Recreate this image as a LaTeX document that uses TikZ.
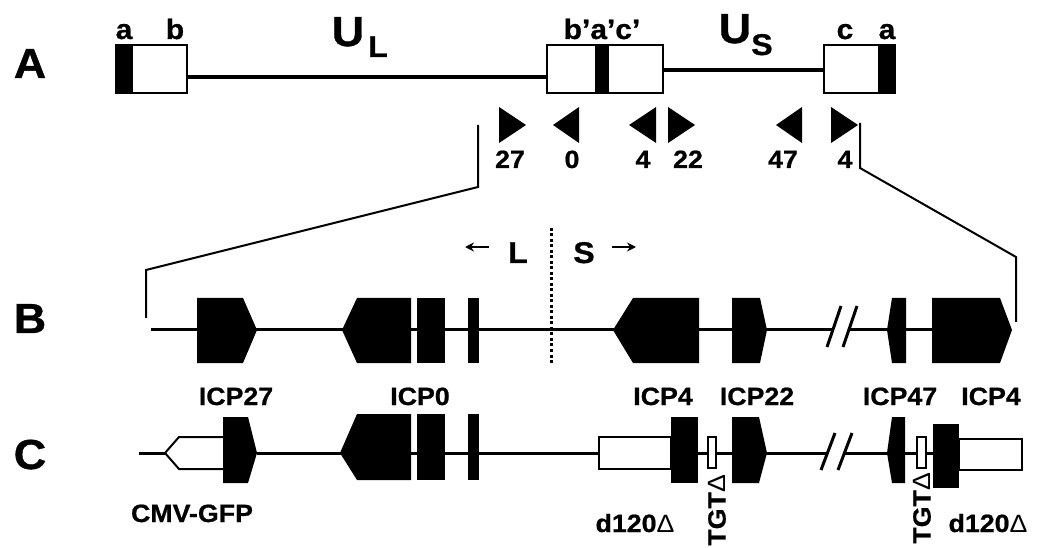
\documentclass[tikz,border=0pt]{standalone}
\usepackage{fontspec}
\setmainfont{Liberation Sans}[FakeStretch=1.07, BoldFeatures={FakeBold=0.8}]
\usetikzlibrary{arrows.meta}
\begin{document}
\begin{tikzpicture}[x=1pt,y=-1pt,
  txt/.style={inner sep=0pt, anchor=base, font=\bfseries\fontsize{25}{30}\selectfont},
  rowlbl/.style={txt, font=\bfseries\fontsize{42}{48}\selectfont},
  seglbl/.style={txt, font=\bfseries\fontsize{28}{32}\selectfont},
  biglbl/.style={txt, font=\bfseries\fontsize{42}{48}\selectfont},
  sublbl/.style={txt, font=\bfseries\fontsize{30}{34}\selectfont},
  openbox/.style={draw=black, fill=white, line width=2pt},
  gene/.style={fill=black},
  genome/.style={line width=4pt},
  dna/.style={line width=3pt},
  link/.style={line width=2pt},
  brk/.style={line width=3pt},
  dir/.style={line width=2pt, -{Stealth[length=9pt,width=9pt]}}]
\useasboundingbox (0,0) rectangle (1037,548);

% row letters
\node[rowlbl] (rA) at (30,78) {A};
\node[rowlbl] (rB) at (30,333) {B};
\node[rowlbl] (rC) at (30,469) {C};

% ---------- row A ----------
\draw[genome] (187,77) -- (547,77);
\draw[genome] (663,70) -- (824,70);
\draw[openbox] (116,45) rectangle (187,93);
\fill[gene] (116,45) rectangle (133,93);
\draw[openbox] (547,45) rectangle (663,93);
\fill[gene] (595,45) rectangle (609,93);
\draw[openbox] (824,45) rectangle (895,93);
\fill[gene] (878,45) rectangle (895,93);

\node[seglbl] (la1) at (124,39) {a};
\node[seglbl] (lb) at (175,39) {b};
\node[seglbl] (lbac) at (602,39) {b’a’c’};
\node[seglbl] (lc) at (845,39) {c};
\node[seglbl] (la2) at (887,39) {a};
\node[biglbl] (UL) at (348,46) {U};
\node[sublbl] (ULs) at (378,57) {L};
\node[biglbl] (US) at (735,43) {U};
\node[sublbl] (USs) at (762,55) {S};

% triangles
\fill (499,107) -- (526,125) -- (499,143) -- cycle;
\fill (579,107) -- (553,125) -- (579,143) -- cycle;
\fill (656,107) -- (629,125) -- (656,143) -- cycle;
\fill (668,107) -- (695,125) -- (668,143) -- cycle;
\fill (802,107) -- (776,125) -- (802,143) -- cycle;
\fill (831,107) -- (858,125) -- (831,143) -- cycle;
\node[txt] (n27) at (510,168) {27};
\node[txt] (n0) at (572,168) {0};
\node[txt] (n4a) at (643,168) {4};
\node[txt] (n22) at (688,168) {22};
\node[txt] (n47) at (783,168) {47};
\node[txt] (n4b) at (845,168) {4};

% zoom connectors
\coordinate (zl1) at (478,125);
\coordinate (zl2) at (478,187);
\coordinate (zl3) at (146,270);
\coordinate (zl4) at (146,318);
\coordinate (zr1) at (860,123);
\coordinate (zr2) at (860,168);
\coordinate (zr3) at (1016,257);
\coordinate (zr4) at (1016,322);
\draw[link] (zl1) -- (zl2) -- (zl3) -- (zl4);
\draw[link] (zr1) -- (zr2) -- (zr3) -- (zr4);

% ---------- row B ----------
\draw[dna] (151,330) -- (833,330);
\draw[dna] (849,330) -- (1010,330);
\draw[brk] (827,347) -- (841,306);
\draw[brk] (843,347) -- (857,306);
\draw[line width=3pt, dash pattern=on 3pt off 2.5pt] (551,228) -- (551,364);
\node[sublbl] (Llbl) at (518,263) {L};
\node[sublbl] (Slbl) at (584,263) {S};
\draw[dir] (489,247) -- (465,247);
\draw[dir] (612,247) -- (636,247);

\fill[gene] (197,298) -- (243,298) -- (257,330) -- (243,363) -- (197,363) -- cycle;
\fill[gene] (342,330) -- (357,298) -- (411,298) -- (411,363) -- (357,363) -- cycle;
\fill[gene] (417,298) rectangle (445,363);
\fill[gene] (468,298) rectangle (479,363);
\fill[gene] (613,330) -- (633,298) -- (699,298) -- (699,363) -- (633,363) -- cycle;
\fill[gene] (732,298) -- (760,298) -- (767,330) -- (760,363) -- (732,363) -- cycle;
\fill[gene] (887,330) -- (892,298) -- (906,298) -- (906,363) -- (892,363) -- cycle;
\fill[gene] (932,298) -- (1000,298) -- (1012,330) -- (1000,363) -- (932,363) -- cycle;

\node[txt] (g27) at (236,405) {ICP27};
\node[txt] (g0) at (420,405) {ICP0};
\node[txt] (g4a) at (663,405) {ICP4};
\node[txt] (g22) at (757,405) {ICP22};
\node[txt] (g47) at (900,405) {ICP47};
\node[txt] (g4b) at (991,405) {ICP4};

% ---------- row C ----------
\draw[dna] (139,453) -- (165,453);
\draw[dna] (257,453) -- (826,453);
\draw[dna] (843,453) -- (960,453);
\draw[brk] (821,470) -- (835,433);
\draw[brk] (838,470) -- (852,433);
\draw[link] (223,437) -- (179,437) -- (165,453) -- (179,469) -- (223,469);

\fill[gene] (223,417) -- (248,417) -- (257,453) -- (248,483) -- (223,483) -- cycle;
\fill[gene] (340,453) -- (357,414) -- (411,414) -- (411,480) -- (357,480) -- cycle;
\fill[gene] (417,414) rectangle (445,480);
\fill[gene] (468,414) rectangle (479,480);
\draw[openbox] (599,437) rectangle (671,469);
\fill[gene] (671,417) rectangle (698,483);
\draw[openbox] (708,437) rectangle (716,468);
\fill[gene] (732,417) -- (759,417) -- (767,453) -- (759,483) -- (732,483) -- cycle;
\fill[gene] (887,453) -- (892,417) -- (905,417) -- (905,483) -- (892,483) -- cycle;
\draw[openbox] (917,437) rectangle (926,468);
\draw[openbox] (959,439) rectangle (1022,470);
\fill[gene] (933,424) rectangle (959,488);

\node[txt] (cmv) at (192,522) {CMV-GFP};
\node[txt] (d1) at (635,532) {d120{\mdseries Δ}};
\node[txt] (d2) at (988,532) {d120{\mdseries Δ}};
\node[txt, anchor=center, rotate=90] (t1) at (717,510) {TGT{\mdseries Δ}};
\node[txt, anchor=center, rotate=90] (t2) at (922,508) {TGT{\mdseries Δ}};
\end{tikzpicture}
\end{document}
